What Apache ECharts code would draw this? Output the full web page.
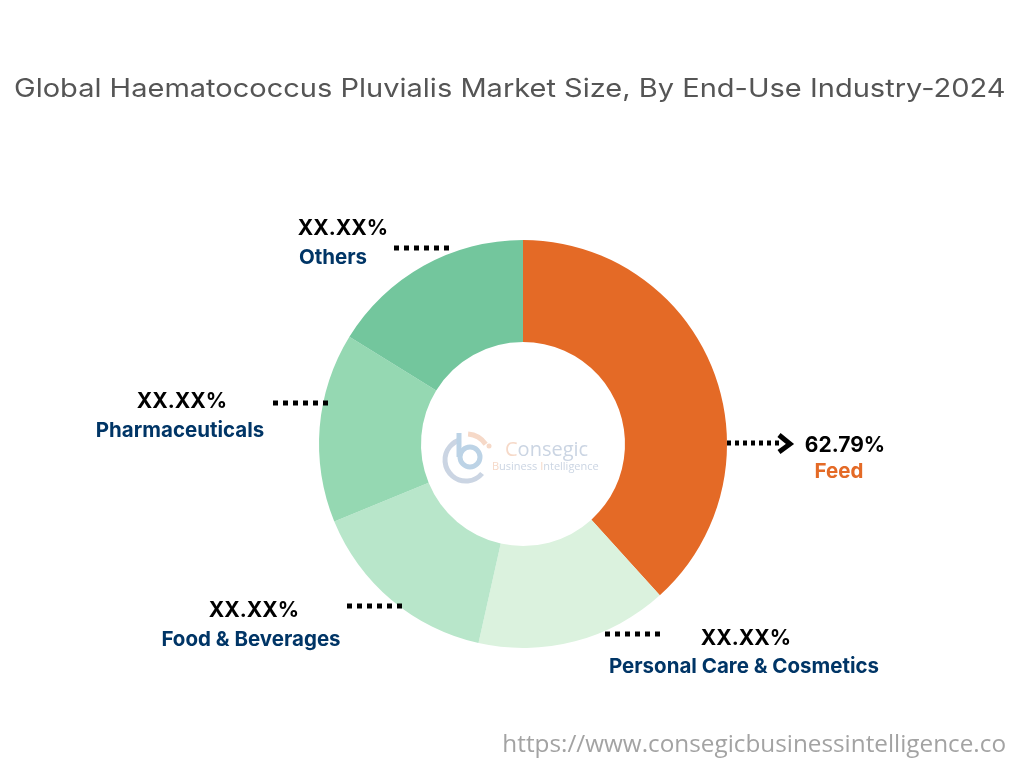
<!DOCTYPE html>
<html>
<head>
<meta charset="utf-8">
<style>
  html, body { margin: 0; padding: 0; background: #fff; }
  #chart { width: 1024px; height: 768px; }
</style>
<script src="https://cdn.jsdelivr.net/npm/echarts@6/dist/echarts.min.js"></script>
</head>
<body>
<div id="chart"></div>
<script>
// values
const categories = ['Feed', 'Personal Care & Cosmetics', 'Food & Beverages', 'Pharmaceuticals', 'Others'];
const sliceShares = [38.3, 15.2, 15.3, 15.0, 16.2];
const shareLabels = ['62.79%', 'XX.XX%', 'XX.XX%', 'XX.XX%', 'XX.XX%'];

const titleText = 'Global Haematococcus Pluvialis Market Size, By End-Use Industry-2024';
const sourceText = 'https://www.consegicbusinessintelligence.co';

const sliceColors = ['#E46A26', '#DBF2DE', '#B8E6CA', '#95D8B2', '#73C69D'];
const labelColors = ['#E46A26', '#003566', '#003566', '#003566', '#003566'];

// where each label pair sits: x of text centre, y of share, y of name, dotted line x0, x1, y
const labelSpots = [
  { x: 845, x2: 839, y1: 446, y2: 472, lx0: 727, lx1: 780, ly: 443, dash: [4, 4] },
  { x: 746, x2: 744, y1: 639, y2: 667, lx0: 605, lx1: 660, ly: 634, dash: [5, 5] },
  { x: 254, x2: 251, y1: 611, y2: 640, lx0: 347, lx1: 402, ly: 606, dash: [5, 5] },
  { x: 182, x2: 180, y1: 402, y2: 431, lx0: 273, lx1: 328, ly: 403, dash: [5, 5] },
  { x: 343, x2: 333, y1: 229, y2: 258, lx0: 394, lx1: 449, ly: 248, dash: [5, 5] }
];

const chart = echarts.init(document.getElementById('chart'));

const graphics = [
  {
    type: 'text', x: 14, y: 76, scaleX: 1.138,
    style: { text: titleText, font: '400 25.5px Inter', fill: '#555555' }
  },
  {
    type: 'text', x: 1006, y: 733,
    style: { text: sourceText, font: '400 24.3px "Open Sans"', fill: '#A3A3A3', align: 'right' }
  }
];

categories.forEach((name, i) => {
  const s = labelSpots[i];
  graphics.push({
    type: 'text', x: s.x, y: s.y1,
    style: { text: shareLabels[i], font: '700 21px Inter', fill: '#000', align: 'center', verticalAlign: 'middle' }
  });
  graphics.push({
    type: 'text', x: s.x2, y: s.y2,
    style: { text: name, font: '700 20.5px Inter', fill: labelColors[i], align: 'center', verticalAlign: 'middle' }
  });
  graphics.push({
    type: 'line', z: 10,
    shape: { x1: s.lx0, y1: s.ly, x2: s.lx1, y2: s.ly },
    style: { stroke: '#000', lineWidth: 5, lineDash: s.dash }
  });
});

// arrow head on the Feed line
graphics.push({
  type: 'polyline', z: 10,
  shape: { points: [[779, 435], [790, 444], [779, 452]] },
  style: { stroke: '#000', lineWidth: 5, fill: 'none' }
});

// logo in the hole
const arc = (cx, cy, r, a0, a1, stroke, lineWidth) => ({
  type: 'arc', z: 10,
  shape: { cx, cy, r, startAngle: a0 * Math.PI / 180, endAngle: a1 * Math.PI / 180, clockwise: true },
  style: { stroke, lineWidth, fill: 'none' }
});
graphics.push(arc(466, 460, 21, 40, 255, '#CBD5E3', 5));
graphics.push(arc(466, 458, 24, 275, 325, '#F6D9C8', 5));
graphics.push(arc(470, 457, 10, 0, 359.9, '#BCD3E6', 5));
graphics.push({
  type: 'line', z: 10,
  shape: { x1: 459, y1: 433, x2: 459, y2: 457 },
  style: { stroke: '#BCD3E6', lineWidth: 5 }
});
graphics.push({ type: 'circle', z: 10, shape: { cx: 489, cy: 446, r: 2.5 }, style: { fill: '#F6D9C8' } });
graphics.push({
  type: 'text', x: 505, y: 450,
  style: {
    text: '{a|C}{b|onsegic}',
    verticalAlign: 'middle',
    rich: {
      a: { font: '500 20px "Open Sans"', fill: '#F6D9C8' },
      b: { font: '500 20px "Open Sans"', fill: '#CBD5E3' }
    }
  }
});
graphics.push({
  type: 'text', x: 492, y: 467,
  style: {
    text: '{a|B}{b|usiness }{a|I}{b|ntelligence}',
    verticalAlign: 'middle',
    rich: {
      a: { font: '400 11px "Open Sans"', fill: '#F6D9C8' },
      b: { font: '400 11px "Open Sans"', fill: '#CBD5E3' }
    }
  }
});

chart.setOption({
  animation: false,
  backgroundColor: '#fff',
  series: [{
    type: 'pie',
    center: [523, 444],
    radius: [102, 204],
    startAngle: 90,
    silent: true,
    label: { show: false },
    labelLine: { show: false },
    data: categories.map((name, i) => ({
      name,
      value: sliceShares[i],
      itemStyle: { color: sliceColors[i] }
    }))
  }],
  graphic: graphics
});
</script>
</body>
</html>
